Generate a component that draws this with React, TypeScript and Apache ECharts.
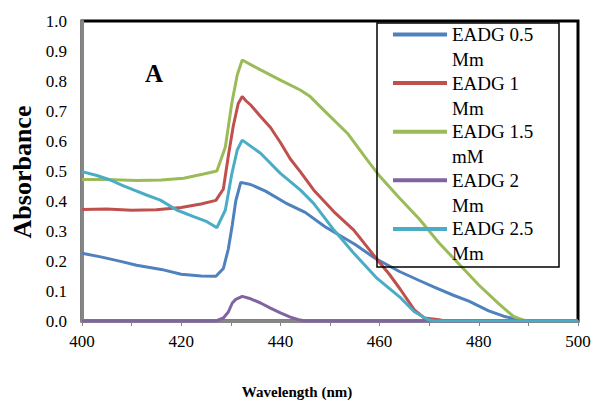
import React, { useEffect, useRef } from "react";
import * as echarts from "echarts";

const seriesNames = ["EADG 0.5", "EADG 1", "EADG 1.5", "EADG 2", "EADG 2.5"];
const seriesUnits = ["Mm", "Mm", "mM", "Mm", "Mm"];
const colors = ["#4F81BD", "#C0504D", "#9BBB59", "#8064A2", "#4BACC6"];

const xTicks = [400, 420, 440, 460, 480, 500];

const wl05 = [400, 404, 408, 411, 416, 420, 424, 427, 428.5, 429.5, 430.3, 431, 432, 434, 437, 441, 445, 449, 452, 455, 459, 464, 468, 471, 475, 478, 482, 485, 488, 490, 500];
const ab05 = [0.226, 0.213, 0.198, 0.186, 0.172, 0.156, 0.15, 0.149, 0.175, 0.24, 0.32, 0.4, 0.462, 0.455, 0.433, 0.394, 0.362, 0.314, 0.285, 0.256, 0.21, 0.165, 0.135, 0.113, 0.085, 0.066, 0.034, 0.016, 0.004, 0, 0];

const wl1 = [400, 405, 410, 415, 420, 424, 427, 428.5, 429.5, 430.5, 431.5, 432.3, 433, 434, 436, 438, 440, 442, 444, 446.7, 450.8, 454.8, 459.5, 462, 464.2, 467, 469, 472, 473, 500];
const ab1 = [0.372, 0.373, 0.369, 0.371, 0.378, 0.39, 0.402, 0.44, 0.55, 0.65, 0.725, 0.748, 0.735, 0.72, 0.682, 0.645, 0.595, 0.54, 0.498, 0.437, 0.364, 0.303, 0.205, 0.155, 0.105, 0.037, 0.01, 0.004, 0, 0];

const wl15 = [400, 405, 411, 416, 420.5, 424.5, 427.2, 428.9, 430.2, 431.3, 432.3, 436, 440, 444, 446, 449.4, 453.5, 457.5, 460, 464, 468, 472, 476, 480, 484, 487, 489, 490, 500];
const ab15 = [0.472, 0.472, 0.468, 0.47, 0.476, 0.49, 0.5, 0.58, 0.726, 0.82, 0.87, 0.837, 0.803, 0.77, 0.748, 0.692, 0.626, 0.537, 0.483, 0.41, 0.34, 0.26, 0.19, 0.12, 0.058, 0.015, 0.003, 0, 0];

const wl2 = [400, 427, 428.5, 429.5, 430.3, 431, 432.3, 434, 436, 438, 440, 442, 443.5, 445, 500];
const ab2 = [0, 0, 0.01, 0.03, 0.06, 0.072, 0.082, 0.074, 0.06, 0.043, 0.027, 0.013, 0.005, 0, 0];

const wl25 = [400, 403, 405.7, 408, 410.4, 413, 415.8, 419.1, 422.5, 425.2, 427.2, 428.9, 430.2, 431.3, 432.3, 436, 440, 444, 446.7, 450.8, 454.8, 459.5, 464.2, 467, 469.7, 471, 500];
const ab25 = [0.498, 0.485, 0.47, 0.453, 0.437, 0.42, 0.403, 0.37, 0.348, 0.331, 0.311, 0.37, 0.49, 0.57, 0.603, 0.559, 0.492, 0.437, 0.392, 0.303, 0.226, 0.142, 0.078, 0.031, 0.005, 0, 0];

const wavelengths = [wl05, wl1, wl15, wl2, wl25];
const absorbances = [ab05, ab1, ab15, ab2, ab25];

const SERIF = "'Liberation Serif', 'Times New Roman', Times, serif";

export default function App() {
  const ref = useRef<HTMLDivElement>(null);

  useEffect(() => {
    if (!ref.current) return;
    const chart = echarts.init(ref.current, undefined, { renderer: "svg" });

    const series = seriesNames.map((name, i) => ({
      name,
      type: "line",
      data: wavelengths[i].map((x, j) => [x, absorbances[i][j]]),
      showSymbol: false,
      symbol: "none",
      lineStyle: { color: colors[i], width: 3 },
      itemStyle: { color: colors[i] },
    }));

    const itemStep = 48.6;
    const legendGraphics: any[] = [
      {
        type: "rect",
        shape: { x: 377, y: 23, width: 182, height: 244 },
        style: { fill: "none", stroke: "#000", lineWidth: 1.5 },
        z: 100,
      },
    ];
    seriesNames.forEach((name, i) => {
      const cy = 34.5 + i * itemStep;
      legendGraphics.push({
        type: "line",
        shape: { x1: 393, y1: cy, x2: 447, y2: cy },
        style: { stroke: colors[i], lineWidth: 4 },
        z: 100,
      });
      legendGraphics.push({
        type: "text",
        x: 452,
        y: cy,
        style: {
          text: name,
          fontFamily: SERIF,
          fontSize: 19,
          fill: "#000",
          verticalAlign: "middle",
        },
        z: 100,
      });
      legendGraphics.push({
        type: "text",
        x: 452,
        y: cy + 25,
        style: {
          text: seriesUnits[i],
          fontFamily: SERIF,
          fontSize: 19,
          fill: "#000",
          verticalAlign: "middle",
        },
        z: 100,
      });
    });

    chart.setOption({
      animation: false,
      backgroundColor: "#fff",
      grid: {
        left: 82,
        right: 14,
        top: 21,
        bottom: 80,
        containLabel: false,
        outerBoundsMode: "none",
        show: true,
        borderColor: "#000",
        borderWidth: 3,
        backgroundColor: "transparent",
      },
      xAxis: {
        type: "value",
        min: 400,
        max: 500,
        interval: 10,
        axisLine: { show: true, onZero: false, lineStyle: { color: "#868686", width: 3 } },
        axisTick: { show: true, length: 5, lineStyle: { color: "#868686", width: 1 } },
        axisLabel: {
          margin: 12,
          color: "#000",
          fontFamily: SERIF,
          fontSize: 17,
          formatter: (v: number) => (xTicks.includes(v) ? String(v) : ""),
        },
        splitLine: { show: false },
      },
      yAxis: {
        type: "value",
        min: 0,
        max: 1,
        interval: 0.1,
        axisLine: { show: true, onZero: false, lineStyle: { color: "#868686", width: 3 } },
        axisTick: { show: false },
        axisLabel: {
          margin: 15,
          color: "#000",
          fontFamily: SERIF,
          fontSize: 17,
          formatter: (v: number) => v.toFixed(1),
        },
        splitLine: { show: false },
      },
      series,
      graphic: [
        ...legendGraphics,
        {
          type: "text",
          x: 297,
          y: 392,
          style: {
            text: "Wavelength (nm)",
            fontFamily: SERIF,
            fontWeight: "bold",
            fontSize: 15,
            fill: "#000",
            align: "center",
            verticalAlign: "middle",
          },
        },
        {
          type: "text",
          x: 22,
          y: 172,
          rotation: Math.PI / 2,
          style: {
            text: "Absorbance",
            fontFamily: SERIF,
            fontWeight: "bold",
            fontSize: 26,
            fill: "#000",
            align: "center",
            verticalAlign: "middle",
          },
        },
        {
          type: "text",
          x: 154,
          y: 73,
          style: {
            text: "A",
            fontFamily: SERIF,
            fontWeight: "bold",
            fontSize: 25,
            fill: "#000",
            align: "center",
            verticalAlign: "middle",
          },
        },
      ],
    });

    return () => chart.dispose();
  }, []);

  return <div ref={ref} style={{ width: 592, height: 401, position: "absolute", left: 0, top: 0 }} />;
}
